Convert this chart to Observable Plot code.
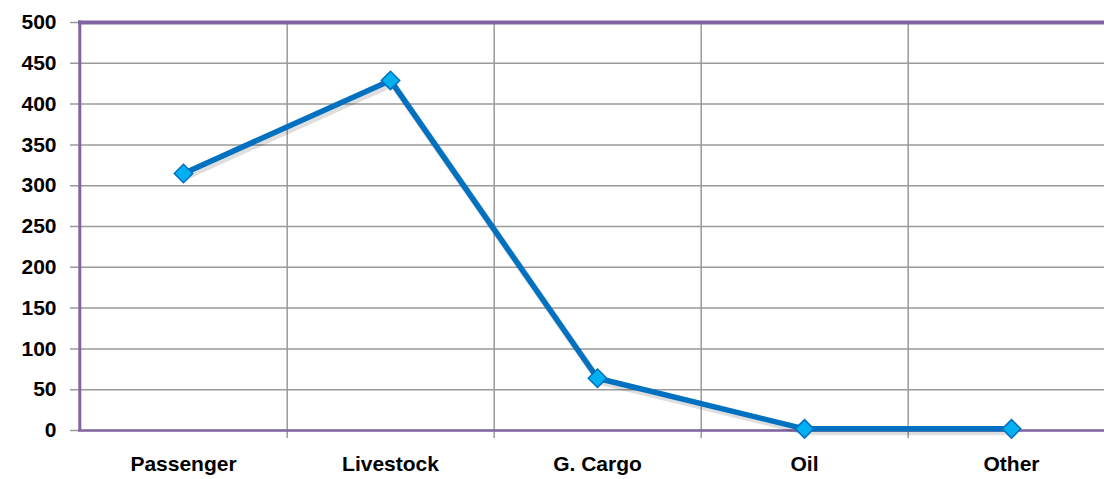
<!DOCTYPE html>
<html>
<head>
<meta charset="utf-8">
<script src="https://cdn.jsdelivr.net/npm/d3@7"></script>
<script src="https://cdn.jsdelivr.net/npm/@observablehq/plot@0.6"></script>
<style>
  html, body { margin: 0; padding: 0; background: #fff; }
  svg { display: block; }
</style>
</head>
<body>
<div id="chart"></div>
<script>
const categories = ["Passenger", "Livestock", "G. Cargo", "Oil", "Other"];
const values = [315, 429, 64, 2, 2];
const yTicks = [0, 50, 100, 150, 200, 250, 300, 350, 400, 450, 500];

const data = categories.map((c, i) => ({category: c, value: values[i]}));

const W = 1104, H = 479;
const left = 78, right = 1115;
const step = (right - left) / categories.length;
const purple = "#8064A2";
const grid = "#9a9a9a";
const font = "'Liberation Sans', Arial, sans-serif";

const chart = Plot.plot({
  width: W,
  height: H,
  marginLeft: left,
  marginRight: 0,
  marginTop: 22,
  marginBottom: 49,
  style: {fontFamily: font, fontSize: "21px", fontWeight: "bold", color: "#000", background: "#fff", overflow: "hidden"},
  x: {type: "point", domain: categories, range: [left, right], padding: 0.5, label: null},
  y: {domain: [0, 500], ticks: yTicks, label: null},
  marks: [
    // horizontal gridlines with tick stubs
    Plot.ruleY(yTicks, {stroke: grid, strokeWidth: 1.5, insetLeft: -8}),
    // vertical gridlines between categories with tick stubs
    Plot.ruleX(categories, {dx: step / 2, y1: 500, y2: 0, stroke: grid, strokeWidth: 1.5, insetBottom: -8}),
    // purple frame lines
    Plot.ruleX([categories[0]], {dx: -step / 2, y1: 500, y2: 0, stroke: purple, strokeWidth: 3, insetTop: -1.5, insetBottom: -1}),
    Plot.ruleY([500], {stroke: purple, strokeWidth: 4}),
    Plot.ruleY([0], {stroke: purple, strokeWidth: 2.5}),
    // line shadow
    Plot.line(data, {x: "category", y: "value", stroke: "#000", strokeOpacity: 0.13, strokeWidth: 7, dx: 2, dy: 3}),
    Plot.line(data, {x: "category", y: "value", stroke: "#0070C0", strokeWidth: 5.5, strokeLinejoin: "round"}),
    Plot.dot(data, {x: "category", y: "value", symbol: "diamond2", r: 8.3, fill: "#00B0F0", stroke: "#0070C0", strokeWidth: 1.5}),
    Plot.axisY({ticks: yTicks, tickSize: 0, tickPadding: 22, fontSize: 21, fontWeight: "bold"}),
    Plot.axisX({tickSize: 0, tickPadding: 26, fontSize: 21, fontWeight: "bold"})
  ]
});
document.getElementById("chart").appendChild(chart);
</script>
</body>
</html>
